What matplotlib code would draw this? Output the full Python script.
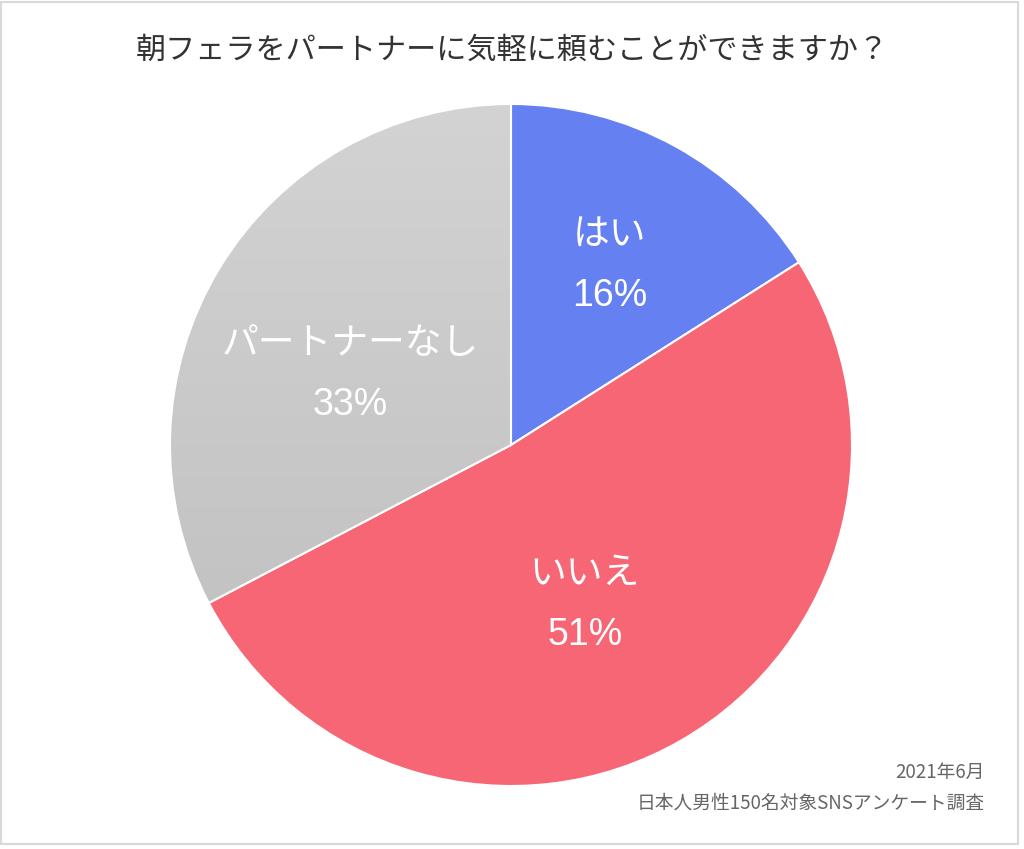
import numpy as np
import matplotlib
matplotlib.use('Agg')
import matplotlib.pyplot as plt
from matplotlib.patches import Rectangle

plt.rcParams['font.family'] = ['Noto Sans CJK JP', 'DejaVu Sans']

# data (respondents, 150 men)
labels = ['はい', 'いいえ', 'パートナーなし']
counts = [24, 77, 49]
colors = ['#6580f1', '#f76674', '#c8c8c8']
title = '朝フェラをパートナーに気軽に頼むことができますか？'
note1 = '2021年6月'
note2 = '日本人男性150名対象SNSアンケート調査'

# label placement inside each slice: (radius fraction, angle shift in deg)
label_place = [(0.60, 0.0), (0.517, -5.2), (0.515, 7.7)]

fig = plt.figure(figsize=(10.24, 8.49), dpi=100)
W, H = 1024, 849
cx, cy, r = 511, 445, 341
ax = fig.add_axes([(cx - r) / W, (H - cy - r) / H, 2 * r / W, 2 * r / H])

wedges, _ = ax.pie(counts, colors=colors, startangle=90, counterclock=False,
                   radius=1, wedgeprops=dict(edgecolor='white', linewidth=1.5))
ax.set_xlim(-1, 1)
ax.set_ylim(-1, 1)
ax.axis('off')

# vertical gradient on the grey slice
grad = np.linspace(0, 1, 256).reshape(-1, 1)
cmap = matplotlib.colors.LinearSegmentedColormap.from_list('g', ['#d3d3d3', '#bdbdbd'])
im = ax.imshow(grad, cmap=cmap, extent=(-1, 1, -1, 1), origin='upper',
               aspect='auto', zorder=wedges[2].get_zorder())
im.set_clip_path(wedges[2])
wedges[2].set_facecolor('none')
wedges[2].set_zorder(im.get_zorder() + 0.1)

total = sum(counts)
for w, lab, c, (d, sh) in zip(wedges, labels, counts, label_place):
    mid = np.deg2rad((w.theta1 + w.theta2) / 2 + sh)
    x, y = d * np.cos(mid), d * np.sin(mid)
    ax.text(x, y + 0.092, lab, ha='center', va='center', fontsize=26.5,
            color='white', zorder=10)
    ax.text(x, y - 0.088, '%d%%' % round(100 * c / total), ha='center',
            va='center', fontsize=27, color='white', zorder=10,
            family=['Liberation Sans', 'DejaVu Sans'])

fig.text(0.5, 1 - 50 / H, title, ha='center', va='center', fontsize=21.7,
         color='#333333')
fig.text(985 / W, 1 - 772 / H, note1, ha='right', va='center', fontsize=13.5,
         color='#666666')
fig.text(985 / W, 1 - 803 / H, note2, ha='right', va='center', fontsize=13.5,
         color='#666666')

fig.patches.append(Rectangle((0.001, 0.006), 0.993, 0.992, transform=fig.transFigure,
                             fill=False, edgecolor='#d9d9d9', linewidth=1.5))

fig.savefig('out.png', dpi=100)
